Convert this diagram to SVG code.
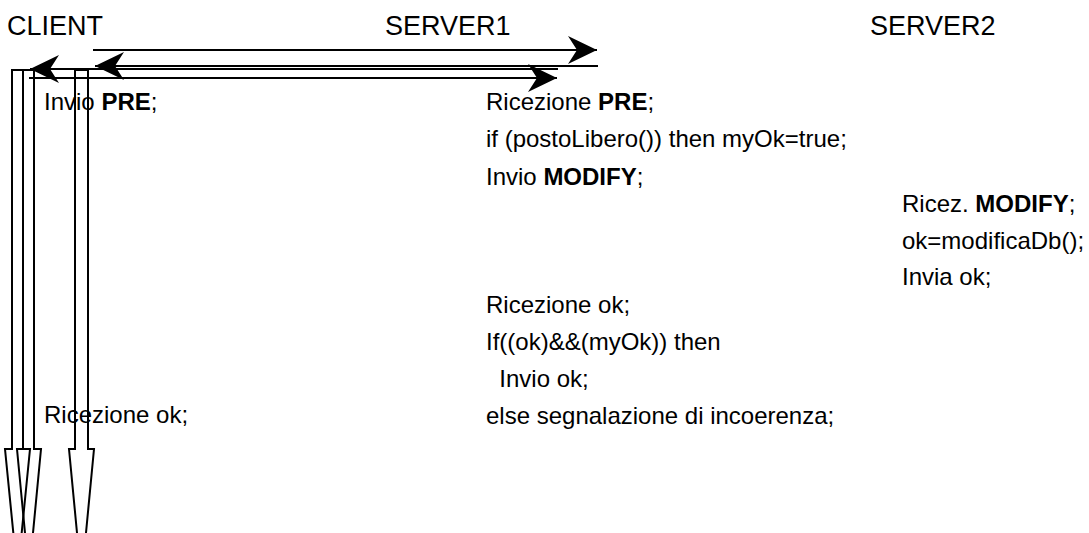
<svg xmlns="http://www.w3.org/2000/svg" width="1089" height="533" viewBox="0 0 1089 533">
  <style>
    .title { font-family: "Liberation Sans", Arial, sans-serif; font-size: 27px; fill: #000; }
    .txt { font-family: "Liberation Sans", Arial, sans-serif; font-size: 24px; fill: #000; }
    .b { font-weight: bold; }
    .msg { stroke: #000; stroke-width: 2; fill: none; marker-end: url(#stealth); }
    .life { stroke: #000; stroke-width: 2; fill: none; stroke-linejoin: miter; }
  </style>
  <defs>
    <marker id="stealth" markerUnits="userSpaceOnUse" markerWidth="30" markerHeight="30" refX="29" refY="14" orient="auto" overflow="visible">
      <path d="M0,0 L29,14 L0,28 L9,14 Z" fill="#000"/>
    </marker>
  </defs>

  <!-- participant headings -->
  <g id="client">
    <text class="title" x="7" y="35">CLIENT</text>
  </g>
  <g id="server1">
    <text class="title" x="385" y="35">SERVER1</text>
  </g>
  <g id="server2">
    <text class="title" x="870" y="35">SERVER2</text>
  </g>

  <!-- client timelines drawn as hollow block arrows -->
  <g id="client-timelines">
    <polygon class="life" points="12,70 23,70 23,449 30,449 17.5,575 5,449 12,449"/>
    <polygon class="life" points="23,70 34,70 34,449 41,449 29,575 17,449 23,449"/>
    <polygon class="life" points="75,70 88,70 88,449 94,449 81.5,580 69,449 75,449"/>
  </g>

  <!-- messages -->
  <g id="connectors">
    <line class="msg" x1="93" y1="50" x2="597" y2="50"/>
    <line class="msg" x1="598" y1="66" x2="95" y2="66"/>
    <line class="msg" x1="558" y1="69" x2="30" y2="69"/>
    <line class="msg" x1="29" y1="78" x2="557" y2="78"/>
  </g>

  <!-- client steps -->
  <g id="client-steps">
    <text class="txt" x="44" y="110">Invio <tspan class="b">PRE</tspan>;</text>
    <text class="txt" x="44" y="423">Ricezione ok;</text>
  </g>

  <!-- server1 steps -->
  <g id="server1-steps">
    <text class="txt" x="486" y="110">Ricezione <tspan class="b">PRE</tspan>;</text>
    <text class="txt" x="486" y="147">if (postoLibero()) then myOk=true;</text>
    <text class="txt" x="486" y="185">Invio <tspan class="b">MODIFY</tspan>;</text>
    <text class="txt" x="486" y="313">Ricezione ok;</text>
    <text class="txt" x="486" y="350">If((ok)&amp;&amp;(myOk)) then</text>
    <text class="txt" x="486" y="387" xml:space="preserve">  Invio ok;</text>
    <text class="txt" x="486" y="424">else segnalazione di incoerenza;</text>
  </g>

  <!-- server2 steps -->
  <g id="server2-steps">
    <text class="txt" x="902" y="212">Ricez. <tspan class="b">MODIFY</tspan>;</text>
    <text class="txt" x="902" y="249">ok=modificaDb();</text>
    <text class="txt" x="902" y="285">Invia ok;</text>
  </g>
</svg>
